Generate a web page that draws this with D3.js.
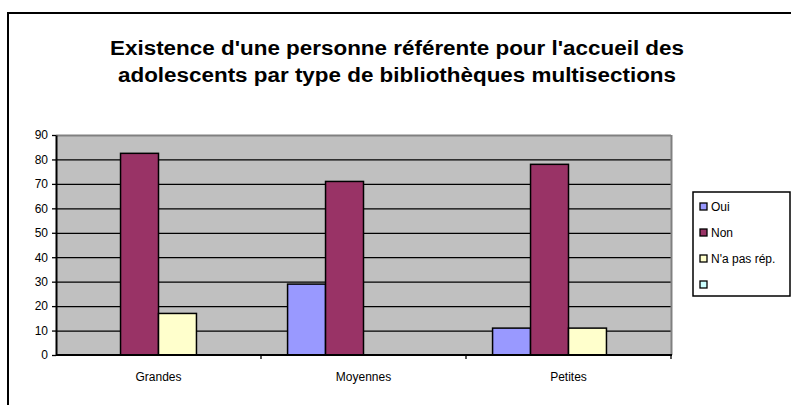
<!DOCTYPE html>
<html>
<head>
<meta charset="utf-8">
<script src="https://cdn.jsdelivr.net/npm/d3@7"></script>
<style>
  body { margin: 0; background: #ffffff; }
  svg { display: block; font-family: "Liberation Sans", Arial, sans-serif; }
</style>
</head>
<body>
<div id="chart"></div>
<script>
// data
var categories = ["Grandes", "Moyennes", "Petites"];
var seriesNames = ["Oui", "Non", "N'a pas rép.", ""];
var seriesColors = ["#9999ff", "#993366", "#ffffcc", "#ccffff"];
var ouiValues = [0, 29, 11];
var nonValues = [82.5, 71, 78];
var napValues = [17, 0, 11];
var blankValues = [0, 0, 0];
var yTicks = [0, 10, 20, 30, 40, 50, 60, 70, 80, 90];
var titleLines = [
  "Existence d'une personne référente pour l'accueil des",
  "adolescents par type de bibliothèques multisections"
];

var width = 791, height = 405;
var plot = {left: 56, right: 671, top: 135, bottom: 355};

var svg = d3.select("#chart").append("svg")
  .attr("width", width)
  .attr("height", height);

// outer frame (runs past right and bottom edges)
svg.append("rect")
  .attr("x", 8).attr("y", 13)
  .attr("width", 900).attr("height", 500)
  .attr("fill", "#ffffff")
  .attr("stroke", "#000000")
  .attr("stroke-width", 2);

// title
var titleSpec = [{y: 55, x0: 110, x1: 684}, {y: 82, x0: 118, x1: 676}];
titleLines.forEach(function(t, i){
  var s = titleSpec[i];
  svg.append("text")
    .attr("x", s.x0)
    .attr("y", s.y)
    .attr("textLength", s.x1 - s.x0)
    .attr("lengthAdjust", "spacingAndGlyphs")
    .style("font-size", "20px")
    .style("font-weight", "bold")
    .style("fill", "#000000")
    .text(t);
});

// scales
var y = d3.scaleLinear().domain([0, 90]).range([plot.bottom, plot.top]);
var x0 = d3.scaleBand().domain(categories).range([plot.left, plot.right]);
var x1 = d3.scaleBand().domain(d3.range(seriesNames.length))
  .range([0, x0.bandwidth()])
  .paddingInner(0).paddingOuter(0.7);

// plot background
svg.append("rect")
  .attr("x", plot.left).attr("y", plot.top)
  .attr("width", plot.right - plot.left)
  .attr("height", plot.bottom - plot.top)
  .attr("fill", "#c0c0c0");

// gridlines
svg.append("g").selectAll("line")
  .data(yTicks.filter(function(d){ return d > 0; }))
  .enter().append("line")
  .attr("x1", plot.left).attr("x2", plot.right)
  .attr("y1", function(d){ return y(d) + 0.5; })
  .attr("y2", function(d){ return y(d) + 0.5; })
  .attr("stroke", function(d){ return d === 90 ? "#808080" : "#000000"; })
  .attr("stroke-width", function(d){ return d === 90 ? 2 : 1.3; });

// plot border right
svg.append("line")
  .attr("x1", plot.right + 0.5).attr("x2", plot.right + 0.5)
  .attr("y1", plot.top).attr("y2", plot.bottom)
  .attr("stroke", "#808080").attr("stroke-width", 2);

// bars
var allSeries = [ouiValues, nonValues, napValues, blankValues];
var groups = svg.append("g").selectAll("g")
  .data(categories)
  .enter().append("g")
  .attr("transform", function(d){ return "translate(" + x0(d) + ",0)"; });

groups.selectAll("rect")
  .data(function(d, ci){
    return allSeries.map(function(vals, si){ return {si: si, v: vals[ci]}; })
      .filter(function(e){ return e.v > 0; });
  })
  .enter().append("rect")
  .attr("x", function(d){ return x1(d.si); })
  .attr("y", function(d){ return y(d.v); })
  .attr("width", x1.bandwidth())
  .attr("height", function(d){ return y(0) - y(d.v); })
  .attr("fill", function(d){ return seriesColors[d.si]; })
  .attr("stroke", "#000000")
  .attr("stroke-width", 1.5);

// y axis
var yAxis = svg.append("g")
  .attr("transform", "translate(" + plot.left + ",0)")
  .call(d3.axisLeft(y).tickValues(yTicks).tickSizeInner(4).tickSizeOuter(0).tickPadding(4));
yAxis.select(".domain").attr("stroke", "#000000").attr("stroke-width", 2);
yAxis.selectAll(".tick line").attr("stroke-width", 1.3);
yAxis.selectAll("text")
  .style("font-size", "12px")
  .style("font-family", "Liberation Sans, Arial, sans-serif")
  .attr("fill", "#000000");

// x axis: boundary ticks and centred labels
var xAxisG = svg.append("g")
  .attr("transform", "translate(0," + plot.bottom + ")");
xAxisG.append("line")
  .attr("x1", plot.left).attr("x2", plot.right + 1)
  .attr("stroke", "#000000").attr("stroke-width", 2);
xAxisG.selectAll("line.tick")
  .data(categories.slice(1).concat(["end"]))
  .enter().append("line")
  .attr("class", "tick")
  .attr("x1", function(d){ return d === "end" ? plot.right : x0(d); })
  .attr("x2", function(d){ return d === "end" ? plot.right : x0(d); })
  .attr("y1", 0).attr("y2", 4)
  .attr("stroke", "#000000").attr("stroke-width", 1.3);
xAxisG.selectAll("text")
  .data(categories)
  .enter().append("text")
  .attr("x", function(d){ return x0(d) + x0.bandwidth() / 2; })
  .attr("y", 26)
  .attr("text-anchor", "middle")
  .style("font-size", "12px")
  .style("fill", "#000000")
  .text(function(d){ return d; });

// legend
var legend = svg.append("g").attr("transform", "translate(693,192)");
legend.append("rect")
  .attr("x", 0).attr("y", 0)
  .attr("width", 97).attr("height", 104)
  .attr("fill", "#ffffff")
  .attr("stroke", "#000000")
  .attr("stroke-width", 1.5);
var items = legend.selectAll("g.item")
  .data(seriesNames)
  .enter().append("g")
  .attr("class", "item")
  .attr("transform", function(d, i){ return "translate(7," + (15 + i * 26) + ")"; });
items.append("rect")
  .attr("x", 0).attr("y", -4)
  .attr("width", 7).attr("height", 7)
  .attr("fill", function(d, i){ return seriesColors[i]; })
  .attr("stroke", "#000000")
  .attr("stroke-width", 1.3);
items.append("text")
  .attr("x", 11)
  .attr("y", 4)
  .style("font-size", "12px")
  .style("fill", "#000000")
  .text(function(d){ return d; });
</script>
</body>
</html>
